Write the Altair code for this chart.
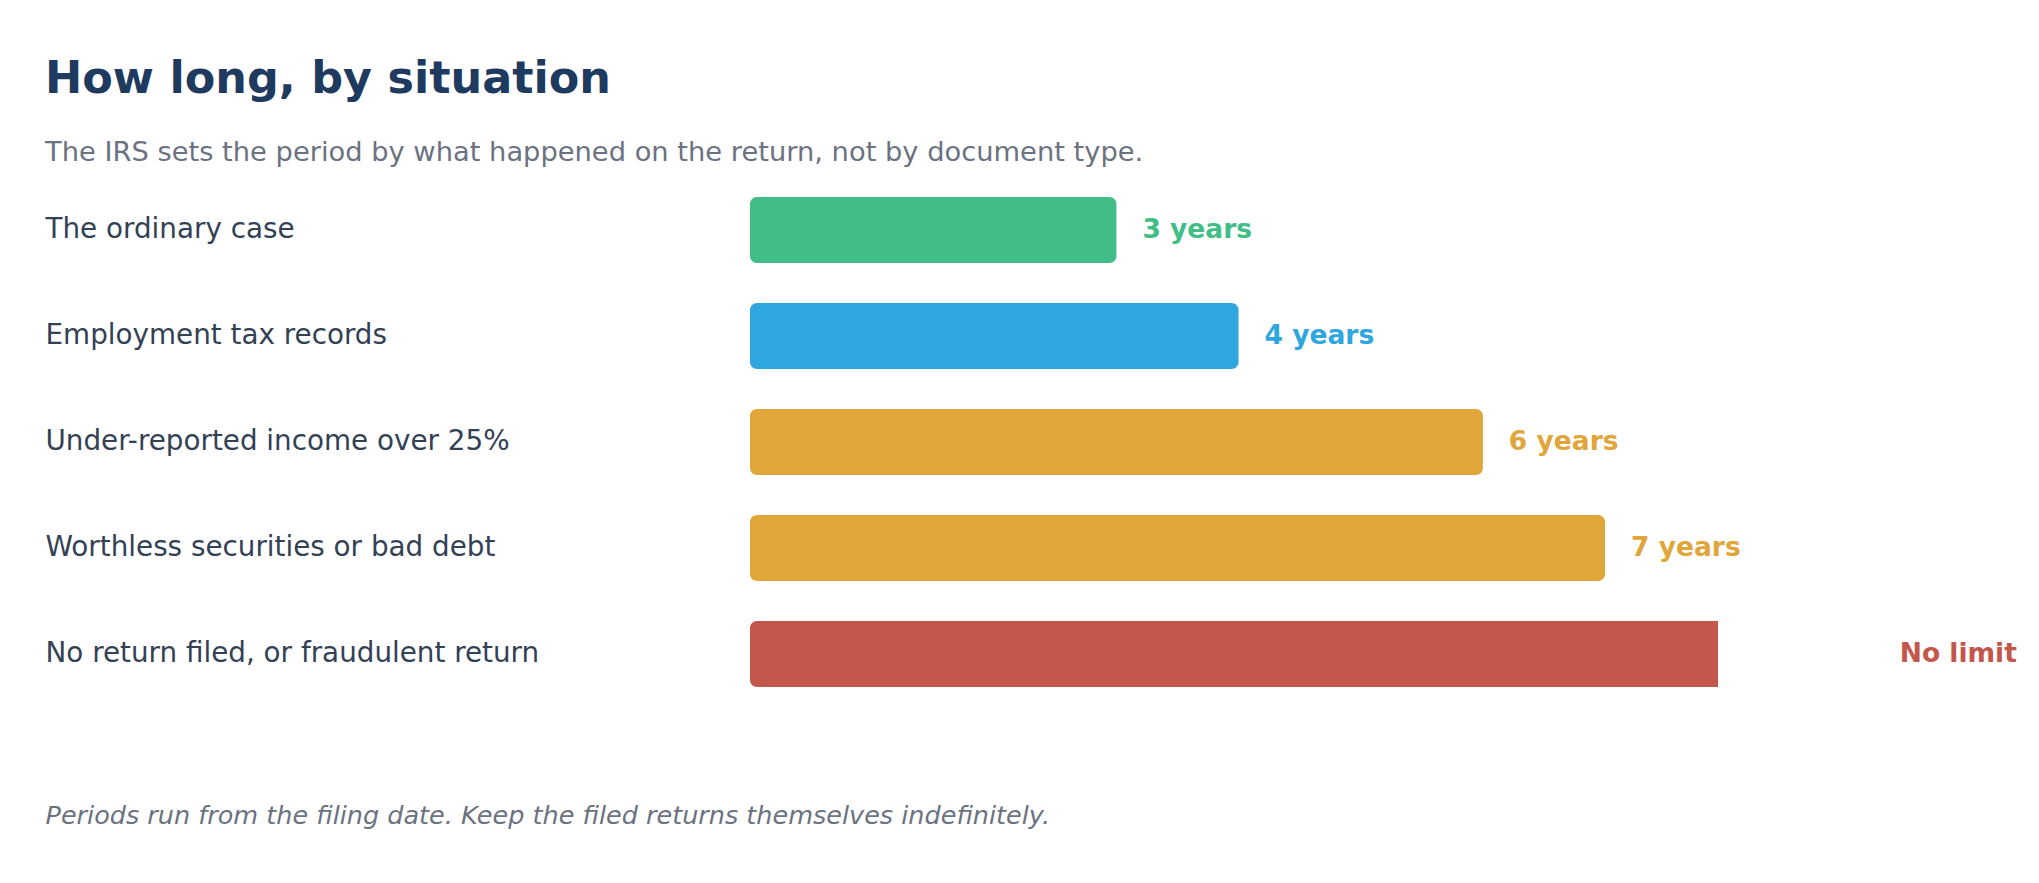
import altair as alt
import pandas as pd

situations = [
    "The ordinary case",
    "Employment tax records",
    "Under-reported income over 25%",
    "Worthless securities or bad debt",
    "No return filed, or fraudulent return",
]
# years kept; the "no limit" case is placed past the end of the axis
years = [3, 4, 6, 7, 9.2]
value_labels = ["3 years", "4 years", "6 years", "7 years", "No limit"]
colors = ["#41be87", "#2fa7de", "#e0a63a", "#e0a63a", "#c4574c"]
open_ended = [False, False, False, False, True]

title_text = "How long, by situation"
subtitle_text = "The IRS sets the period by what happened on the return, not by document type."
footnote_text = "Periods run from the filing date. Keep the filed returns themselves indefinitely."

df = pd.DataFrame(
    {"situation": situations, "years": years, "label": value_labels, "open": open_ended}
)

FONT = "DejaVu Sans"
X_MAX = 7.925

color_scale = alt.Scale(domain=situations, range=colors)

y_enc = alt.Y(
    "situation:N",
    sort=situations,
    scale=alt.Scale(paddingInner=0.377, paddingOuter=0.1885),
    axis=alt.Axis(
        title=None,
        ticks=False,
        tickSize=0,
        domain=False,
        grid=False,
        labelAlign="left",
        labelPadding=705,
        labelLimit=1000,
        labelFont=FONT,
        labelFontSize=27.8,
        labelColor="#334155",
    ),
)

x_bar = alt.X(
    "years:Q",
    stack=None,
    scale=alt.Scale(domain=[0, X_MAX], nice=False, zero=True, clamp=True),
    axis=alt.Axis(
        labels=False,
        ticks=False,
        domain=False,
        grid=False,
        title=footnote_text,
        titleAnchor="start",
        titleAlign="left",
        titleX=-705,
        titleY=116,
        titleBaseline="alphabetic",
        titleFont=FONT,
        titleFontSize=25.5,
        titleFontStyle="italic",
        titleFontWeight="normal",
        titleColor="#6b7280",
    ),
)

color_enc = alt.Color("situation:N", scale=color_scale, legend=None)

bars_closed = (
    alt.Chart(df)
    .transform_filter("!datum.open")
    .mark_bar(cornerRadius=7)
    .encode(x=x_bar, y=y_enc, color=color_enc)
)

bars_open = (
    alt.Chart(df)
    .transform_filter("datum.open")
    .mark_bar(cornerRadiusTopLeft=7, cornerRadiusBottomLeft=7)
    .encode(x=x_bar, y=y_enc, color=color_enc)
)

bar_layer = alt.layer(bars_closed, bars_open)

texts = (
    alt.Chart(df)
    .mark_text(
        align="left",
        baseline="middle",
        dx=26,
        font=FONT,
        fontSize=26.5,
        fontWeight="bold",
    )
    .encode(
        x=alt.X(
            "years:Q",
            scale=alt.Scale(domain=[0, X_MAX], nice=False, zero=True),
            axis=None,
        ),
        y=alt.Y("situation:N", sort=situations),
        text="label:N",
        color=color_enc,
    )
)

chart = (
    alt.layer(bar_layer, texts)
    .resolve_scale(x="independent")
    .properties(
        width=968,
        height=530,
        padding={"left": 37, "top": 48, "right": 10, "bottom": 10},
        background="white",
        title=alt.TitleParams(
            text=title_text,
            subtitle=subtitle_text,
            anchor="start",
            frame="bounds",
            font=FONT,
            fontSize=44.5,
            fontWeight="bold",
            color="#1e3a5f",
            subtitleFont=FONT,
            subtitleFontSize=27.3,
            subtitleColor="#6b7280",
            subtitlePadding=36.5,
            offset=10,
        ),
    )
    .configure_view(stroke=None)
)

chart.save("out.html", embed_options={"renderer": "svg", "actions": False})
